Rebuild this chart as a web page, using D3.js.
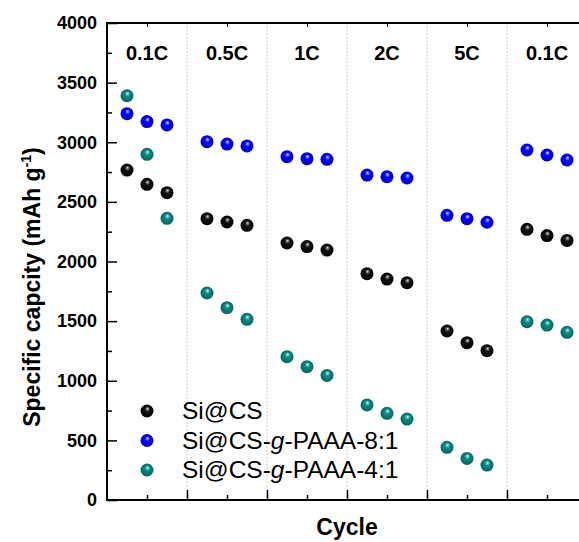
<!DOCTYPE html>
<html>
<head>
<meta charset="utf-8">
<script src="https://cdn.jsdelivr.net/npm/d3@7"></script>
<style>
  body { margin: 0; background: #fff; }
  svg { display: block; font-family: 'Liberation Sans', Arial, sans-serif; }
</style>
</head>
<body>
<div id="chart"></div>
<script>
// rate steps, one group of three cycles each
const rates = ['0.1C', '0.5C', '1C', '2C', '5C', '0.1C'];
const rateCenters = [2, 6, 10, 14, 18, 22];
const cycles = [1, 2, 3, 5, 6, 7, 9, 10, 11, 13, 14, 15, 17, 18, 19, 21, 22, 23];

const siCS = [2767, 2647, 2577, 2359, 2331, 2303, 2155, 2125, 2096, 1898, 1853, 1822, 1417, 1319, 1252, 2270, 2217, 2177];
const paaa81 = [3240, 3173, 3145, 3005, 2985, 2969, 2879, 2862, 2857, 2725, 2711, 2700, 2387, 2359, 2329, 2935, 2893, 2851];
const paaa41 = [3390, 2899, 2362, 1736, 1613, 1515, 1202, 1118, 1045, 797, 727, 679, 442, 349, 293, 1495, 1467, 1406];

const yTicks = [0, 500, 1000, 1500, 2000, 2500, 3000, 3500, 4000];
const yMinor = [250, 750, 1250, 1750, 2250, 2750, 3250, 3750];
const xMajor = [4, 8, 12, 16, 20];
const xMinor = [2, 6, 10, 14, 18, 22];

const series = [
  { key: 'black', name: ['Si@CS'], values: siCS, light: '#d8d8d8', color: '#111', dark: '#000' },
  { key: 'blue', name: ['Si@CS-', 'g', '-PAAA-8:1'], values: paaa81, light: '#e0e0ff', color: '#0000ff', dark: '#0000b8' },
  { key: 'teal', name: ['Si@CS-', 'g', '-PAAA-4:1'], values: paaa41, light: '#d8f4f2', color: '#0b8b87', dark: '#05605d' },
];

const W = 579;
const H = 542;
const margin = { top: 23, right: -8, bottom: 42, left: 107 };

const svg = d3.select('#chart').append('svg')
  .attr('width', W)
  .attr('height', H);

const defs = svg.append('defs');
series.forEach((s) => {
  const grad = defs.append('radialGradient')
    .attr('id', `ball-${s.key}`)
    .attr('cx', '0.5').attr('cy', '0.5').attr('r', '0.55')
    .attr('fx', '0.55').attr('fy', '0.3');
  grad.append('stop').attr('offset', '0%').attr('stop-color', s.light);
  grad.append('stop').attr('offset', '35%').attr('stop-color', s.color);
  grad.append('stop').attr('offset', '100%').attr('stop-color', s.dark);
});

const x = d3.scaleLinear().domain([0, 24]).range([margin.left, W - margin.right]);
const y = d3.scaleLinear().domain([0, 4000]).range([H - margin.bottom, margin.top]);

// dotted dividers between rate steps
svg.append('g')
  .selectAll('line')
  .data(xMajor)
  .join('line')
  .attr('x1', d => x(d)).attr('x2', d => x(d))
  .attr('y1', y(4000)).attr('y2', y(0))
  .attr('stroke', '#bdbdbd')
  .attr('stroke-width', 1)
  .attr('stroke-dasharray', '1.5,2');

// left axis, ticks pointing in
const yAxis = svg.append('g')
  .attr('transform', `translate(${x(0)},0)`)
  .call(d3.axisLeft(y).tickValues(yTicks).tickSize(-10).tickPadding(10).tickFormat(d3.format('d')));
yAxis.select('.domain').remove();
yAxis.selectAll('line').attr('stroke', '#000').attr('stroke-width', 1.5);
yAxis.selectAll('text')
  .attr('font-size', 18)
  .attr('font-weight', 'bold')
  .attr('fill', '#000')
  .attr('font-family', "'Liberation Sans', Arial, sans-serif");

const yMinorAxis = svg.append('g')
  .attr('transform', `translate(${x(0)},0)`)
  .call(d3.axisLeft(y).tickValues(yMinor).tickSize(-5).tickFormat(''));
yMinorAxis.select('.domain').remove();
yMinorAxis.selectAll('line').attr('stroke', '#000').attr('stroke-width', 1.5);

// bottom axis
const xAxis = svg.append('g')
  .attr('transform', `translate(0,${y(0)})`)
  .call(d3.axisBottom(x).tickValues(xMajor).tickSize(-10).tickFormat(''));
xAxis.select('.domain').remove();
xAxis.selectAll('line').attr('stroke', '#000').attr('stroke-width', 1.5);

const xMinorAxis = svg.append('g')
  .attr('transform', `translate(0,${y(0)})`)
  .call(d3.axisBottom(x).tickValues(xMinor).tickSize(-5).tickFormat(''));
xMinorAxis.select('.domain').remove();
xMinorAxis.selectAll('line').attr('stroke', '#000').attr('stroke-width', 1.5);

// top axis minor ticks
const xTopAxis = svg.append('g')
  .attr('transform', `translate(0,${y(4000)})`)
  .call(d3.axisTop(x).tickValues(xMinor).tickSize(-4).tickFormat(''));
xTopAxis.select('.domain').remove();
xTopAxis.selectAll('line').attr('stroke', '#000').attr('stroke-width', 1);

// frame
svg.append('rect')
  .attr('x', x(0)).attr('y', y(4000))
  .attr('width', x(24) - x(0)).attr('height', y(0) - y(4000))
  .attr('fill', 'none')
  .attr('stroke', '#000')
  .attr('stroke-width', 2);

// rate labels
svg.append('g')
  .selectAll('text')
  .data(rates)
  .join('text')
  .attr('x', (d, i) => x(rateCenters[i]))
  .attr('y', 60)
  .attr('text-anchor', 'middle')
  .attr('font-size', 20)
  .attr('font-weight', 'bold')
  .text(d => d);

// points
series.forEach((s) => {
  svg.append('g')
    .selectAll('circle')
    .data(s.values)
    .join('circle')
    .attr('cx', (d, i) => x(cycles[i]))
    .attr('cy', d => y(d))
    .attr('r', 6.5)
    .attr('fill', `url(#ball-${s.key})`);
});

// legend
const legend = svg.append('g');
series.forEach((s, i) => {
  const ly = 411 + i * 29.5;
  legend.append('circle')
    .attr('cx', 147).attr('cy', ly)
    .attr('r', 6.5)
    .attr('fill', `url(#ball-${s.key})`);
  const t = legend.append('text')
    .attr('x', 182).attr('y', ly + 8)
    .attr('font-size', 24.5);
  s.name.forEach((part, j) => {
    t.append('tspan')
      .attr('font-style', j === 1 ? 'italic' : 'normal')
      .text(part);
  });
});

// axis titles
svg.append('text')
  .attr('x', x(12))
  .attr('y', 535)
  .attr('text-anchor', 'middle')
  .attr('font-size', 23)
  .attr('font-weight', 'bold')
  .text('Cycle');

const yTitle = svg.append('text')
  .attr('transform', 'translate(40,287) rotate(-90)')
  .attr('text-anchor', 'middle')
  .attr('font-size', 23)
  .attr('font-weight', 'bold');
yTitle.append('tspan').text('Specific capcity (mAh g');
yTitle.append('tspan').attr('font-size', 14).attr('dy', -9).text('-1');
yTitle.append('tspan').attr('dy', 9).text(')');
</script>
</body>
</html>
